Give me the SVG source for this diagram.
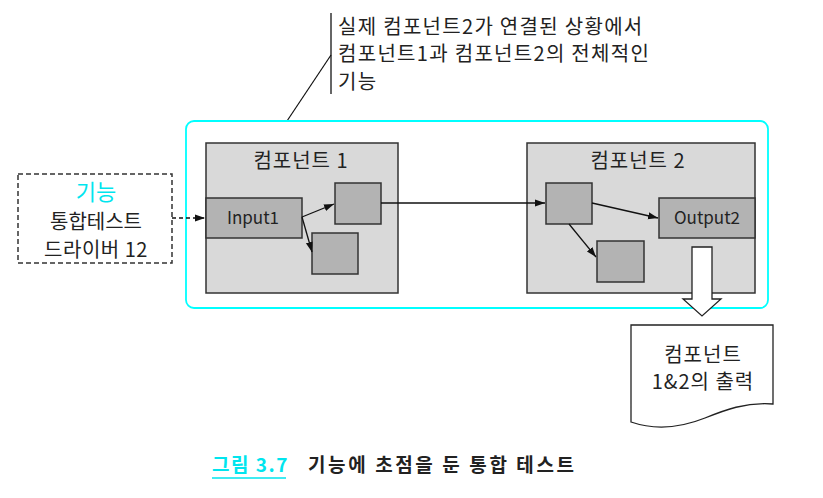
<svg xmlns="http://www.w3.org/2000/svg" width="823" height="498" viewBox="0 0 823 498">
<style>
text{font-family:"Noto Sans CJK KR","Noto Sans",sans-serif;fill:#222;}
.comp{fill:#d9d9d9;stroke:#333;stroke-width:1.5;}
.blk{fill:#b3b3b3;stroke:#333;stroke-width:1.5;}
.ln{fill:none;stroke:#111;stroke-width:1.3;}
.t19{font-size:20px;text-anchor:middle;letter-spacing:1px;}
.t17{font-size:17px;text-anchor:middle;}
.call{font-size:20px;letter-spacing:1.3px;}
</style>
<defs>
<marker id="ah" viewBox="0 0 10 10" refX="10" refY="5" markerWidth="10" markerHeight="10" markerUnits="userSpaceOnUse" orient="auto">
<path d="M0,1.5 L10,5 L0,8.5 Z" fill="#111"/>
</marker>
</defs>
<rect width="823" height="498" fill="#fff"/>

<g id="callout">
<line x1="331" y1="13" x2="331" y2="94" stroke="#333" stroke-width="1.5"/>
<line x1="331" y1="55" x2="287" y2="121" stroke="#111" stroke-width="1.2"/>
<text class="call" x="338" y="34">실제 컴포넌트2가 연결된 상황에서</text>
<text class="call" x="338" y="61">컴포넌트1과 컴포넌트2의 전체적인</text>
<text class="call" x="338" y="89">기능</text>
</g>

<g id="system">
<rect x="186" y="121" width="582" height="187" rx="8" fill="none" stroke="#00ffff" stroke-width="1.8"/>
</g>

<g id="component1">
<rect class="comp" x="206" y="143" width="192" height="150"/>
<text class="t19" x="301" y="168">컴포넌트 1</text>
</g>
<g id="input1">
<rect class="blk" x="206" y="198" width="96" height="40"/>
<text class="t17" x="253" y="224">Input1</text>
</g>
<g id="c1box1"><rect class="blk" x="335" y="183" width="46" height="41"/></g>
<g id="c1box2"><rect class="blk" x="312" y="233" width="46" height="41"/></g>

<g id="component2">
<rect class="comp" x="527" y="143" width="228" height="150"/>
<text class="t19" x="638" y="168">컴포넌트 2</text>
</g>
<g id="c2box1"><rect class="blk" x="546" y="183" width="46" height="41"/></g>
<g id="output2">
<rect class="blk" x="659" y="198" width="96" height="40"/>
<text class="t17" x="707" y="224">Output2</text>
</g>
<g id="c2box2"><rect class="blk" x="597" y="241" width="47" height="41"/></g>

<g id="driver">
<rect x="18" y="174" width="154" height="89" fill="#fff" stroke="#333" stroke-width="1.5" stroke-dasharray="5,3"/>
<text class="t19" x="96" y="200" style="fill:#00e5ee;font-size:22px;letter-spacing:0">기능</text>
<text class="t19" x="96" y="229" style="letter-spacing:0">통합테스트</text>
<text class="t19" x="96" y="257" style="letter-spacing:0.5px">드라이버 12</text>
</g>

<g id="output-doc">
<path d="M631,325 L773,325 L773,404 C745,402 725,410 705,418 C685,426 660,432 631,422 Z" fill="#fff" stroke="#222" stroke-width="1.3"/>
<text class="t19" x="703" y="362">컴포넌트</text>
<text class="t19" x="703" y="389">1&amp;2의 출력</text>
</g>

<g id="connectors">
<line class="ln" x1="172" y1="218" x2="205" y2="218" stroke-dasharray="4,3" marker-end="url(#ah)"/>
<line class="ln" x1="302" y1="217" x2="334" y2="204" marker-end="url(#ah)"/>
<line class="ln" x1="302" y1="217" x2="312" y2="252" marker-end="url(#ah)"/>
<line class="ln" x1="381" y1="203" x2="545" y2="203" marker-end="url(#ah)"/>
<line class="ln" x1="592" y1="203" x2="658" y2="218" marker-end="url(#ah)"/>
<line class="ln" x1="569" y1="224" x2="596" y2="257" marker-end="url(#ah)"/>
<path d="M692,247 L712,247 L712,299 L721,299 L702,316 L683,299 L692,299 Z" fill="#fff" stroke="#222" stroke-width="1.3"/>
</g>

<g id="caption">
<text x="212" y="472" font-size="19" font-weight="bold" letter-spacing="1.5" style="fill:#00e5ee">그림 3.7</text>
<line x1="212" y1="478" x2="286" y2="478" stroke="#00e5ee" stroke-width="1.5"/>
<text x="308" y="472" font-size="19" font-weight="bold" letter-spacing="2.6" fill="#111">기능에 초점을 둔 통합 테스트</text>
</g>
</svg>
